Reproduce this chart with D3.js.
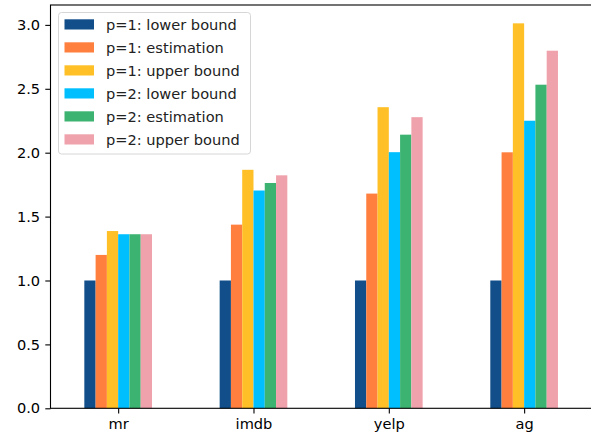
<!DOCTYPE html>
<html><head><meta charset="utf-8">
<script src="https://cdn.jsdelivr.net/npm/d3@7/dist/d3.min.js"></script>
<style>body{margin:0;background:#fff;} svg{display:block;font-family:"DejaVu Sans",sans-serif;}</style>
</head><body>
<script>
const categories = ["mr", "imdb", "yelp", "ag"];
const seriesNames = ["p=1: lower bound", "p=1: estimation", "p=1: upper bound", "p=2: lower bound", "p=2: estimation", "p=2: upper bound"];
const p1Lower = [1.0, 1.0, 1.0, 1.0];
const p1Est = [1.20, 1.437, 1.68, 2.003];
const p1Upper = [1.387, 1.866, 2.356, 3.012];
const p2Lower = [1.362, 1.704, 2.004, 2.25];
const p2Est = [1.362, 1.763, 2.141, 2.532];
const p2Upper = [1.362, 1.823, 2.278, 2.798];
const yTicks = [0.0, 0.5, 1.0, 1.5, 2.0, 2.5, 3.0];
const colors = ["#114e8a", "#ff7f3f", "#ffbf26", "#00bfff", "#3cb371", "#f0a2ac"];
const series = [p1Lower, p1Est, p1Upper, p2Lower, p2Est, p2Upper];

const W = 591, H = 434;
const FS = "14.6px";
const svg = d3.select("body").append("svg").attr("width", W).attr("height", H);
const mLeft = 50.5, mRight = 591.8, mTop = 5, mBottom = 408.3;

const x = d3.scaleLinear().domain([-0.5, 3.5]).range([mLeft, mRight]);
const y = d3.scaleLinear().domain([0, 3.1556]).range([mBottom, mTop]);
const barW = 0.5 / series.length;

series.forEach((vals, si) => {
  svg.append("g").selectAll("rect").data(vals).join("rect")
    .attr("x", (d, i) => x(i - 0.25 + si * barW))
    .attr("width", x(barW) - x(0))
    .attr("y", d => y(d))
    .attr("height", d => y(0) - y(d))
    .attr("fill", colors[si]);
});

const yAxis = svg.append("g").attr("transform", `translate(${mLeft},0)`)
  .call(d3.axisLeft(y).tickValues(yTicks).tickFormat(d3.format(".1f")).tickSize(5.2).tickPadding(5.2));
const xAxis = svg.append("g").attr("transform", `translate(0,${mBottom})`)
  .call(d3.axisBottom(x).tickValues(d3.range(categories.length)).tickFormat(i => categories[i]).tickSize(5.2).tickPadding(5));
[yAxis, xAxis].forEach(g => {
  g.select(".domain").remove();
  g.selectAll("line").attr("stroke", "#000").attr("stroke-width", 1.1);
  g.selectAll("text").attr("fill", "#000").style("font-size", FS).style("font-family", "DejaVu Sans, sans-serif");
});
svg.append("rect").attr("x", mLeft).attr("y", mTop).attr("width", mRight - mLeft).attr("height", mBottom - mTop)
  .attr("fill", "none").attr("stroke", "#000").attr("stroke-width", 1.1);

const lg = svg.append("g");
lg.append("rect").attr("x", 58.5).attr("y", 12.5).attr("width", 192).attr("height", 141.5)
  .attr("rx", 3).attr("fill", "#fff").attr("fill-opacity", 0.8).attr("stroke", "#d6d6d6");
seriesNames.forEach((name, i) => {
  const cy = 24.3 + i * 23;
  lg.append("rect").attr("x", 64.5).attr("y", cy - 5).attr("width", 29.5).attr("height", 10.2).attr("fill", colors[i]);
  lg.append("text").attr("x", 106).attr("y", cy).attr("dy", "0.36em").text(name)
    .style("font-size", FS).attr("fill", "#222");
});
</script>
</body></html>
